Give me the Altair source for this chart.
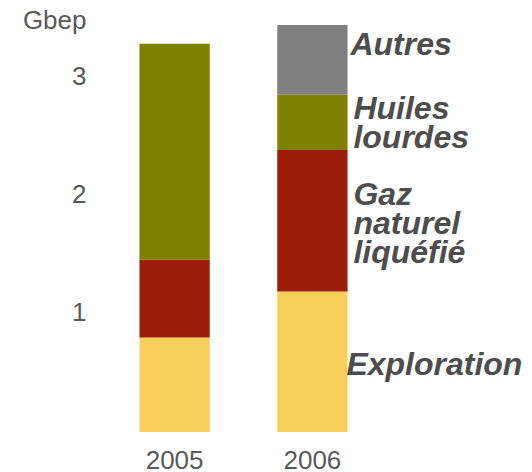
import altair as alt
import pandas as pd

years = ["2005", "2006"]
categories = ["Exploration", "Gaz naturel liquéfié", "Huiles lourdes", "Autres"]
labels = ["Exploration", "Gaz\nnaturel\nliquéfié", "Huiles\nlourdes", "Autres"]
values_2005 = [0.80, 0.66, 1.83, 0.0]
values_2006 = [1.19, 1.20, 0.47, 0.59]
colors = ["#F9CF5B", "#9B1D0A", "#808000", "#808080"]

rows = []
for y, vals in zip(years, [values_2005, values_2006]):
    for i, (c, lab, v) in enumerate(zip(categories, labels, vals)):
        if v > 0:
            rows.append({"year": y, "cat": c, "label": lab, "value": v, "ord": i})
df = pd.DataFrame(rows)

FONT = "Liberation Sans"
TXT = "#4D4D4D"
AX = "#595959"

x = alt.X("year:N", title=None,
          scale=alt.Scale(paddingInner=0.49, paddingOuter=0.25),
          axis=alt.Axis(domain=False, ticks=False, tickSize=0, labelAngle=0,
                        labelFontSize=26, labelColor=AX, labelFont=FONT,
                        labelPadding=15, grid=False))

bars = alt.Chart(df).mark_bar().encode(
    x=x,
    y=alt.Y("value:Q", stack="zero",
            scale=alt.Scale(domain=[0, 3.5], nice=False),
            axis=alt.Axis(values=[1, 2, 3], format="d", domain=False, ticks=False,
                          tickSize=0, grid=False, labelFontSize=26, labelColor=AX,
                          labelFont=FONT, labelPadding=19, labelOffset=-2,
                          title="Gbep", titleAngle=0, titleAlign="right",
                          titleBaseline="alphabetic", titleX=-19, titleY=9,
                          titleFontSize=26, titleFontWeight="normal",
                          titleColor=AX, titleFont=FONT)),
    color=alt.Color("cat:N", scale=alt.Scale(domain=categories, range=colors), legend=None),
    order=alt.Order("ord:Q", sort="ascending"),
)

base_txt = alt.Chart(df).transform_filter(
    alt.datum.year == "2006"
).transform_stack(
    stack="value", groupby=["year"], sort=[alt.SortField("ord", order="ascending")],
    as_=["y0", "y1"]
).transform_calculate(
    mid="(datum.y0 + datum.y1) / 2"
)

def txt(cat, dx, dy):
    return base_txt.transform_filter(alt.datum.cat == cat).mark_text(
        align="left", baseline="middle", dx=dx, dy=dy, lineBreak="\n",
        lineHeight=29, font=FONT, fontSize=32, fontWeight="bold",
        fontStyle="italic", color=TXT
    ).encode(x=alt.X("year:N"), y=alt.Y("mid:Q"), text="label:N")

t_gnl = txt("Gaz naturel liquéfié", 41, -26)
t_hl = txt("Huiles lourdes", 41, -13)
t_expl = txt("Exploration", 34, 3)
t_autres = txt("Autres", 38, -15)

chart = alt.layer(bars, t_gnl, t_hl, t_expl, t_autres).properties(
    width=277, height=413,
    autosize=alt.AutoSizeParams(type="none"),
    padding={"left": 97, "top": 11, "right": 142, "bottom": 50},
).configure_view(stroke=None)

chart.save("out.html", embed_options={"renderer": "svg", "actions": False})
